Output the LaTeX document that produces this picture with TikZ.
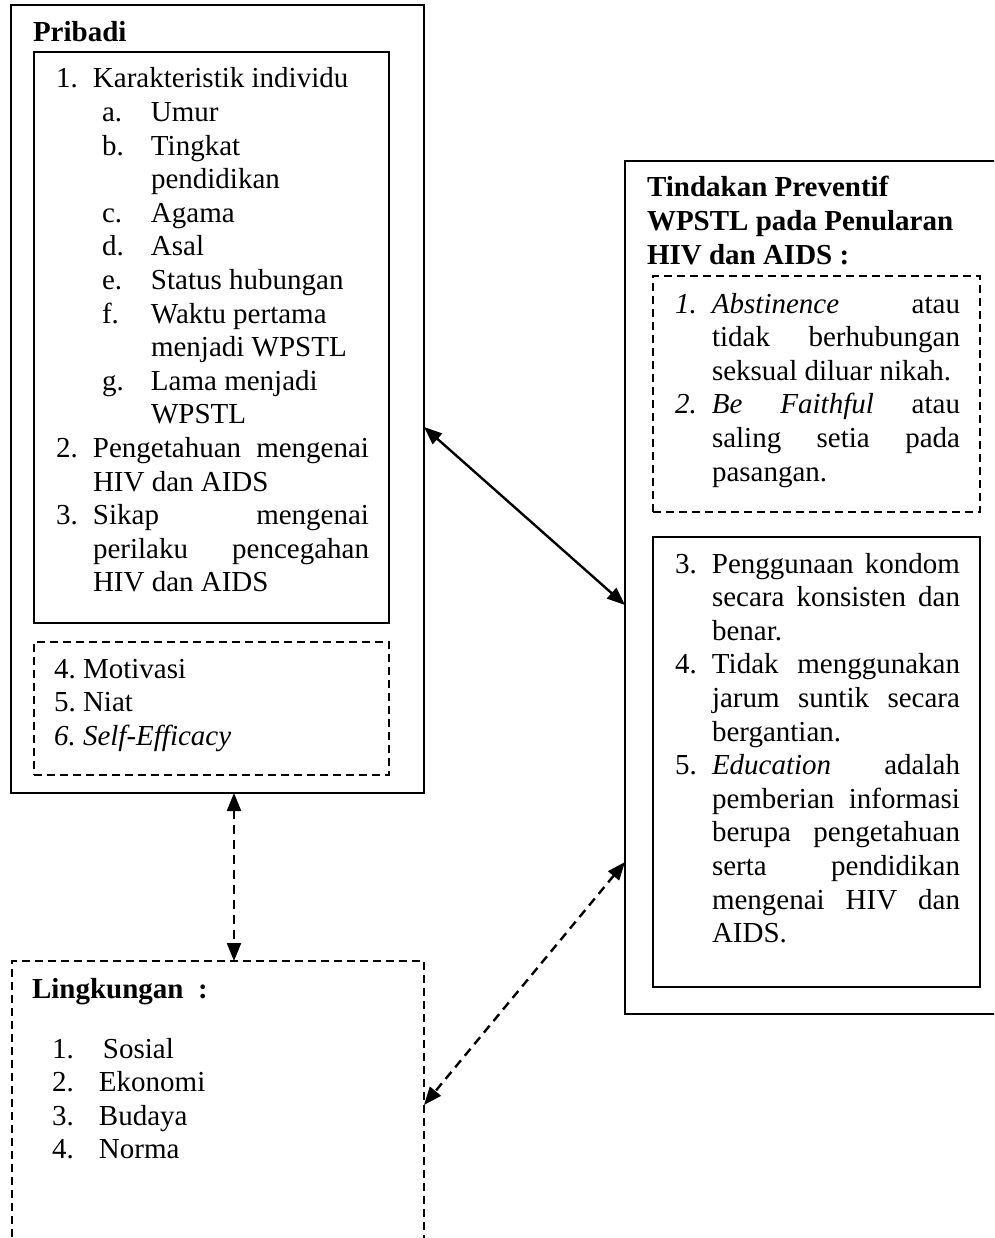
\documentclass[tikz,border=0pt]{standalone}
\usepackage{fontspec}
\setmainfont{Liberation Serif}
\usetikzlibrary{arrows.meta,calc}
\newcommand\Lr[4]{\leavevmode\rlap{\hspace*{#1}#2}\hspace*{#3}#4\par}
\newcommand\Js[1]{\makebox[276pt][s]{\spaceskip=0pt\xspaceskip=0pt\relax #1}}
\newcommand\Jr[1]{\makebox[248pt][s]{\spaceskip=0pt\xspaceskip=0pt\relax #1}}
\tikzset{
  box/.style={draw, line width=1.8pt, rectangle, inner sep=0pt, outer sep=0pt, anchor=north west},
  dbox/.style={box, line width=1.6pt, dash pattern=on 8pt off 5pt},
  txt/.style={anchor=base west, inner sep=0pt, outer sep=0pt, text width=420pt, align=justify,
    font=\fontsize{29}{33.6}\selectfont},
  btxt/.style={txt, font=\fontsize{29}{33.6}\selectfont\bfseries},
  arr/.style={line width=2.4pt, {Triangle[length=18pt,width=14pt]}-{Triangle[length=18pt,width=14pt]}},
  darr/.style={arr, dash pattern=on 9pt off 6pt},
}
\begin{document}
\begin{tikzpicture}[x=1pt,y=-1pt]
\useasboundingbox (0,0) rectangle (994,1238);
\clip (0,0) rectangle (994,1238);
\fill[white] (0,0) rectangle (994,1238);

% ---------- Pribadi ----------
\node[box, minimum width=413pt, minimum height=788pt] (pribadi) at (11,5) {};
\node[box, minimum width=355pt, minimum height=571pt] (pin) at (34,52) {};
\node[dbox, minimum width=355pt, minimum height=133pt] (pdash) at (34,642) {};
\node[btxt] (ptitle) at (33,42) {Pribadi};
\node[txt] (plist) at (56,88) {%
\Lr{0pt}{1.}{37pt}{Karakteristik individu}
\Lr{46pt}{a.}{95pt}{Umur}
\Lr{46pt}{b.}{95pt}{Tingkat}
\Lr{0pt}{}{95pt}{pendidikan}
\Lr{46pt}{c.}{95pt}{Agama}
\Lr{46pt}{d.}{95pt}{Asal}
\Lr{46pt}{e.}{95pt}{Status hubungan}
\Lr{46pt}{f.}{95pt}{Waktu pertama}
\Lr{0pt}{}{95pt}{menjadi WPSTL}
\Lr{46pt}{g.}{95pt}{Lama menjadi}
\Lr{0pt}{}{95pt}{WPSTL}
\Lr{0pt}{2.}{37pt}{\Js{Pengetahuan mengenai}}
\Lr{0pt}{}{37pt}{HIV dan AIDS}
\Lr{0pt}{3.}{37pt}{\Js{Sikap mengenai}}
\Lr{0pt}{}{37pt}{\Js{perilaku pencegahan}}
\Lr{0pt}{}{37pt}{HIV dan AIDS}};
\node[txt] (pdlist) at (54,678) {%
\Lr{0pt}{4.}{29pt}{Motivasi}
\Lr{0pt}{5.}{29pt}{Niat}
\Lr{0pt}{\textit{6.}}{29pt}{\textit{Self-Efficacy}}};

% ---------- Tindakan Preventif ----------
\node[box, minimum width=385pt, minimum height=853pt] (tind) at (625,161) {};
\node[dbox, minimum width=327pt, minimum height=236pt] (tdash) at (653,276) {};
\node[box, minimum width=327pt, minimum height=450pt] (tsolid) at (653,537) {};
\node[btxt] (ttitle) at (647,197) {%
Tindakan Preventif\par
WPSTL pada Penularan\par
HIV dan AIDS :};
\node[txt] (tdlist) at (675,313) {%
\Lr{0pt}{\textit{1.}}{37pt}{\Jr{\textit{Abstinence} atau}}
\Lr{0pt}{}{37pt}{\Jr{tidak berhubungan}}
\Lr{0pt}{}{37pt}{seksual diluar nikah.}
\Lr{0pt}{\textit{2.}}{37pt}{\Jr{\textit{Be Faithful} atau}}
\Lr{0pt}{}{37pt}{\Jr{saling setia pada}}
\Lr{0pt}{}{37pt}{pasangan.}};
\node[txt] (tslist) at (675,573) {%
\Lr{0pt}{3.}{37pt}{\Jr{Penggunaan kondom}}
\Lr{0pt}{}{37pt}{\Jr{secara konsisten dan}}
\Lr{0pt}{}{37pt}{benar.}
\Lr{0pt}{4.}{37pt}{\Jr{Tidak menggunakan}}
\Lr{0pt}{}{37pt}{\Jr{jarum suntik secara}}
\Lr{0pt}{}{37pt}{bergantian.}
\Lr{0pt}{5.}{37pt}{\Jr{\textit{Education} adalah}}
\Lr{0pt}{}{37pt}{\Jr{pemberian informasi}}
\Lr{0pt}{}{37pt}{\Jr{berupa pengetahuan}}
\Lr{0pt}{}{37pt}{\Jr{serta pendidikan}}
\Lr{0pt}{}{37pt}{\Jr{mengenai HIV dan}}
\Lr{0pt}{}{37pt}{AIDS.}};

% ---------- Lingkungan ----------
\node[dbox, minimum width=412pt, minimum height=299pt] (ling) at (12,961) {};
\node[btxt] (ltitle) at (32,998) {Lingkungan\hspace{0.5em}:};
\node[txt] (llist) at (52,1058) {%
\Lr{0pt}{1.}{51pt}{Sosial}
\Lr{0pt}{2.}{47pt}{Ekonomi}
\Lr{0pt}{3.}{47pt}{Budaya}
\Lr{0pt}{4.}{47pt}{Norma}};

% ---------- connectors ----------
\draw[arr] ([yshift=-28pt]pribadi.east) -- ([yshift=-17.5pt]tind.west);
\draw[darr] ([xshift=16.5pt]pribadi.south) -- ([xshift=16pt]ling.north);
\draw[darr] ([yshift=-274.5pt]tind.west) -- ([yshift=5.5pt]ling.east);
\end{tikzpicture}
\end{document}
